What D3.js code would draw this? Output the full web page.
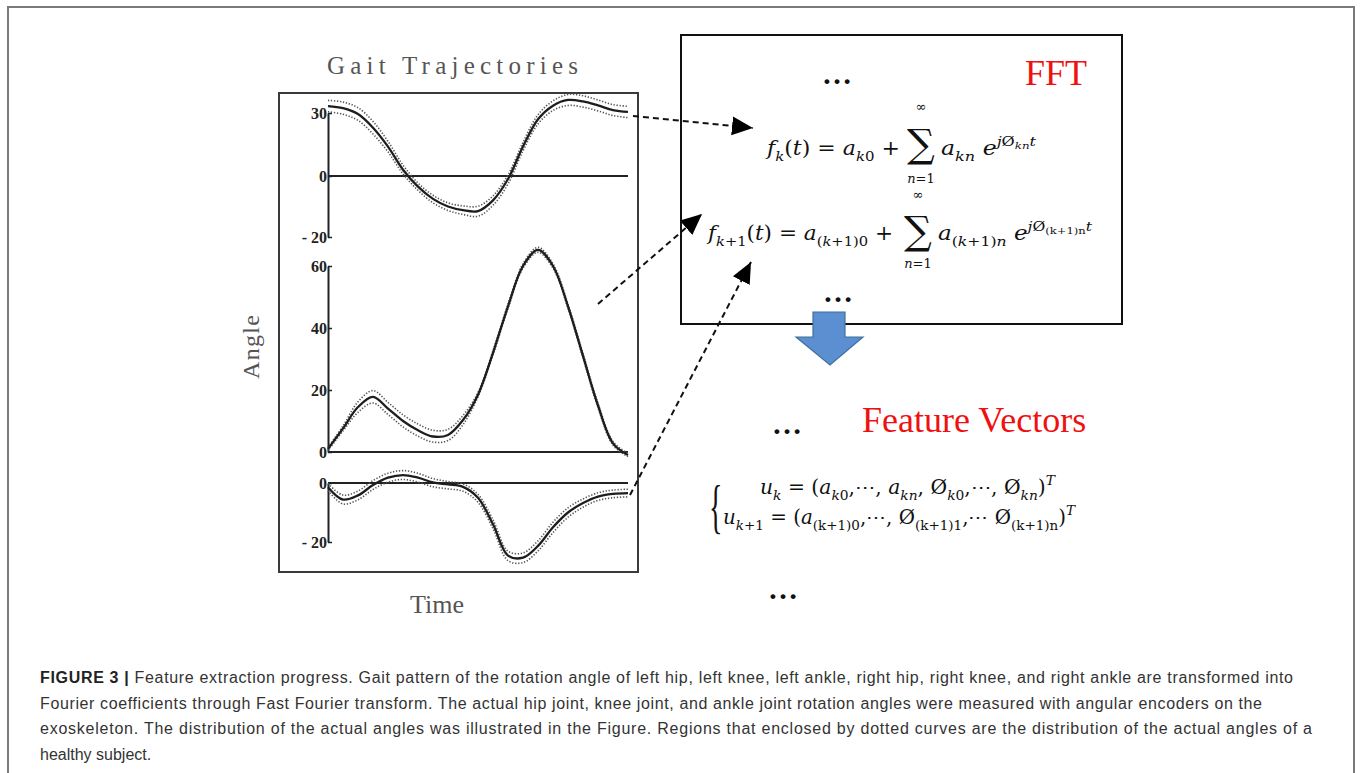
<!DOCTYPE html>
<html>
<head>
<meta charset="utf-8">
<script src="https://cdn.jsdelivr.net/npm/d3@7"></script>
<style>
  html, body { margin: 0; padding: 0; background: #fff; }
  svg { display: block; }
</style>
</head>
<body>
<div id="fig"></div>
<script>
// gait cycle grid, percent of the cycle
const timePct = [0,5,10,15,20,25,30,35,40,45,50,55,60,65,70,75,80,85,90,95,100];

// hip angle (deg), mean and dotted envelope
const hipMean  = [33.3,32.3,29.5,23,14,3,-3.5,-7.5,-10,-11.2,-11.5,-8,-1,14,27,33.5,36.2,35.5,33.6,31.4,30.5];
const hipUpper = [36,35.2,32.5,26,16.5,5.2,-2.3,-6.3,-8.8,-9.8,-9.9,-6.5,0.5,16,29.2,35.8,38.8,38.2,36.2,34,33.2];
const hipLower = [30.6,29.4,26.5,20,11.5,1,-4.7,-8.8,-11.3,-12.6,-13.2,-9.6,-2.6,12,24.8,31.2,33.6,32.8,31,28.8,27.8];

// knee angle
const kneeMean  = [1,7.6,14.5,17.8,14,10,7,5,5.5,10.3,18.5,32,47,60,65.2,60,47,31,15,2.8,-1];
const kneeUpper = [1.5,8.4,16.2,19.8,16,12,9,7,7.3,11.8,19.2,32.7,47.7,60.7,66,60.7,47.7,31.7,15.7,3.4,-0.5];
const kneeLower = [0.5,6.8,12.8,15.8,12.1,8.1,5.1,3.2,3.7,8.8,17.8,31.3,46.3,59.3,64.4,59.3,46.3,30.3,14.3,2.2,-1.5];

// ankle angle
const ankleMean  = [-1.4,-5.6,-4.2,-0.7,1.8,2.7,1.8,0.2,-0.5,-1.3,-5,-14,-24.6,-25.3,-21.3,-15,-10,-6.8,-4.6,-3.7,-3.4];
const ankleUpper = [-0.2,-4.1,-2.7,0.8,3.3,4.2,3.3,1.5,0.5,-0.3,-3.8,-12.5,-23.1,-23.7,-19.6,-13.3,-8.4,-5.4,-3.3,-2.4,-2.1];
const ankleLower = [-2.6,-7.1,-5.7,-2.2,0.3,1.2,0.3,-1.3,-2,-2.8,-6.5,-15.5,-26.3,-27,-23,-16.8,-11.6,-8.2,-5.9,-5,-4.7];

const hipTicks = [30, 0, -20];
const kneeTicks = [60, 40, 20, 0];
const ankleTicks = [0, -20];

const caption = [
  "Feature extraction progress. Gait pattern of the rotation angle of left hip, left knee, left ankle, right hip, right knee, and right ankle are transformed into",
  "Fourier coefficients through Fast Fourier transform. The actual hip joint, knee joint, and ankle joint rotation angles were measured with angular encoders on the",
  "exoskeleton. The distribution of the actual angles was illustrated in the Figure. Regions that enclosed by dotted curves are the distribution of the actual angles of a",
  "healthy subject."
];

var width = 1360, height = 773;

var svg = d3.select("#fig").append("svg")
    .attr("width", width)
    .attr("height", height);

// outer figure frame (bottom edge runs off the page)
svg.append("path")
   .attr("d", "M8,773V7H1354V773")
   .attr("fill", "none")
   .attr("stroke", "#7a7a7a")
   .attr("stroke-width", 2);

// ---------- left: gait trajectories ----------
var x = d3.scaleLinear().domain([0, 100]).range([328, 628]);

var panels = [
  {y: d3.scaleLinear().domain([-20, 0, 30]).range([237, 176, 113]), ticks: hipTicks,
   mean: hipMean, upper: hipUpper, lower: hipLower},
  {y: d3.scaleLinear().domain([0, 60]).range([452, 266]), ticks: kneeTicks,
   mean: kneeMean, upper: kneeUpper, lower: kneeLower},
  {y: d3.scaleLinear().domain([-20, 0]).range([542, 483]), ticks: ankleTicks,
   mean: ankleMean, upper: ankleUpper, lower: ankleLower}
];

var plot = svg.append("g").attr("class", "gait");

plot.append("rect")
    .attr("x", 279).attr("y", 93)
    .attr("width", 359).attr("height", 479)
    .attr("fill", "none")
    .attr("stroke", "#3a3a3a")
    .attr("stroke-width", 2);

plot.append("text")
    .attr("x", 327).attr("y", 74)
    .attr("textLength", 251)
    .attr("lengthAdjust", "spacing")
    .attr("font-family", "Liberation Serif")
    .attr("font-size", 25)
    .attr("fill", "#555")
    .text("Gait Trajectories");

plot.append("text")
    .attr("transform", "translate(259,347) rotate(-90)")
    .attr("text-anchor", "middle")
    .attr("textLength", 64)
    .attr("lengthAdjust", "spacing")
    .attr("font-family", "Liberation Serif")
    .attr("font-size", 24)
    .attr("fill", "#555")
    .text("Angle");

plot.append("text")
    .attr("x", 437).attr("y", 613)
    .attr("text-anchor", "middle")
    .attr("font-family", "Liberation Serif")
    .attr("font-size", 26)
    .attr("fill", "#555")
    .text("Time");

panels.forEach(function(p){
  var g = plot.append("g");

  var axis = d3.axisLeft(p.y)
      .tickValues(p.ticks)
      .tickSizeInner(-4)
      .tickSizeOuter(0)
      .tickPadding(1)
      .tickFormat(function(d){ return d < 0 ? "- " + Math.abs(d) : d; });

  var ax = g.append("g")
      .attr("transform", "translate(" + x(0) + ",0)")
      .call(axis);
  ax.select(".domain").attr("stroke", "#222").attr("stroke-width", 2);
  ax.selectAll(".tick line").attr("stroke", "#222").attr("stroke-width", 1.5);
  ax.selectAll(".tick text")
    .attr("font-family", "Liberation Serif")
    .attr("font-weight", "bold")
    .attr("font-size", 16)
    .attr("fill", "#222");

  // zero reference line
  g.append("line")
   .attr("x1", x(0)).attr("x2", x(100))
   .attr("y1", p.y(0)).attr("y2", p.y(0))
   .attr("stroke", "#222")
   .attr("stroke-width", 1.8);

  var line = d3.line()
      .x(function(d, i){ return x(timePct[i]); })
      .y(function(d){ return p.y(d); })
      .curve(d3.curveCatmullRom.alpha(0.5));

  [p.upper, p.lower].forEach(function(s){
    g.append("path")
     .attr("d", line(s))
     .attr("fill", "none")
     .attr("stroke", "#555")
     .attr("stroke-width", 1.6)
     .attr("stroke-dasharray", "1.3 1.7");
  });

  g.append("path")
   .attr("d", line(p.mean))
   .attr("fill", "none")
   .attr("stroke", "#1e1e1e")
   .attr("stroke-width", 2.3);
});

// ---------- right: FFT box ----------
var mathFont = "DejaVu Serif";
var lev = {0: 0, 1: 0.3, 2: -0.45, 3: -0.28};
var sz  = {0: 1, 1: 0.68, 2: 0.68, 3: 0.5};

function mathText(sel, xx, yy, size, parts, len){
  var t = sel.append("text")
      .attr("x", xx).attr("y", yy)
      .attr("font-family", mathFont)
      .attr("font-size", size)
      .attr("fill", "#111")
      .style("white-space", "pre");
  var cur = 0;
  parts.forEach(function(p){
    var l = p[2] || 0;
    var off = lev[l] * size;
    t.append("tspan")
     .attr("dy", off - cur)
     .attr("font-size", sz[l] * size)
     .attr("font-style", p[1] === "i" ? "italic" : "normal")
     .text(p[0]);
    cur = off;
  });
  if (len) t.attr("textLength", len).attr("lengthAdjust", "spacingAndGlyphs");
  return t;
}

// big summation sign with its limits
function sigma(sel, cx, yy, topY, botY){
  sel.append("text").attr("x", cx).attr("y", yy)
     .attr("text-anchor", "middle")
     .attr("font-family", mathFont).attr("font-size", 39)
     .attr("fill", "#111").text("\u2211");
  sel.append("text").attr("x", cx).attr("y", topY)
     .attr("text-anchor", "middle")
     .attr("font-family", mathFont).attr("font-size", 13)
     .attr("fill", "#111").text("\u221E");
  var n = sel.append("text").attr("x", cx).attr("y", botY)
     .attr("text-anchor", "middle")
     .attr("font-family", mathFont).attr("font-size", 13)
     .attr("fill", "#111");
  n.append("tspan").attr("font-style", "italic").text("n");
  n.append("tspan").text("=1");
}

function dots(sel, cx, yy){
  sel.append("text").attr("x", cx).attr("y", yy)
     .attr("text-anchor", "middle")
     .attr("font-family", "Liberation Serif")
     .attr("font-weight", "bold")
     .attr("font-size", 30)
     .attr("fill", "#111")
     .text("\u2026");
}

var right = svg.append("g").attr("class", "fft");

right.append("rect")
     .attr("x", 681).attr("y", 35)
     .attr("width", 441).attr("height", 289)
     .attr("fill", "none")
     .attr("stroke", "#111")
     .attr("stroke-width", 2);

right.append("text")
     .attr("x", 1025).attr("y", 85)
     .attr("font-family", "Liberation Serif")
     .attr("font-size", 36)
     .attr("fill", "#f01010")
     .text("FFT");

dots(right, 837, 84);
dots(right, 838, 302);

mathText(right, 767, 155, 20, [
  ["f","i"],["k","i",1],["(",""],["t","i"],[") = ",""],["a","i"],["k","i",1],["0","",1],[" +",""]
], 133);
sigma(right, 921, 157, 111, 183);
mathText(right, 941, 155, 20, [
  ["a","i"],["kn","i",1],[" ",""],["e","i"],["j","i",2],["\u00D8","",2],["kn","i",3],["t","i",2]
], 95);

mathText(right, 708, 240, 20, [
  ["f","i"],["k","i",1],["+1","",1],["(",""],["t","i"],[") = ",""],["a","i"],["(",""  ,1],["k","i",1],["+1)0","",1],[" +",""]
], 185);
sigma(right, 918, 244, 199, 268);
mathText(right, 938, 240, 20, [
  ["a","i"],["(","",1],["k","i",1],["+1)","",1],["n","i",1],[" ",""],["e","i"],["j","i",2],["\u00D8","",2],["(k+1)n","",3],["t","i",2]
], 154);

// down arrow
right.append("path")
     .attr("d", "M813,312H845V337H863L830,365L796,337H813Z")
     .attr("fill", "#5b8fd2")
     .attr("stroke", "#41719c")
     .attr("stroke-width", 1.2);

// feature vectors
dots(right, 787, 434);
right.append("text")
     .attr("x", 862).attr("y", 432)
     .attr("font-family", "Liberation Serif")
     .attr("font-size", 36)
     .attr("fill", "#f01010")
     .text("Feature Vectors");

// tall, narrow brace
right.append("text")
     .attr("transform", "translate(709,526) scale(0.5,1.05)")
     .attr("font-family", "Liberation Serif")
     .attr("font-size", 56)
     .attr("fill", "#111")
     .text("{");

mathText(right, 760, 494, 20, [
  ["u","i"],["k","i",1],[" = (",""],["a","i"],["k","i",1],["0","",1],[",\u22EF, ",""],["a","i"],["kn","i",1],[", ",""],
  ["\u00D8",""],["k","i",1],["0","",1],[",\u22EF, ",""],["\u00D8",""],["kn","i",1],[")",""],["T","i",2]
], 295);
mathText(right, 723, 524, 20, [
  ["u","i"],["k","i",1],["+1","",1],[" = (",""],["a","i"],["(k+1)0","",1],[",\u22EF, ",""],
  ["\u00D8",""],["(k+1)1","",1],[",\u22EF ",""],["\u00D8",""],["(k+1)n","",1],[")",""],["T","i",2]
], 352);

dots(right, 783, 599);

// dashed connectors
svg.append("defs").append("marker")
   .attr("id", "head")
   .attr("markerUnits", "userSpaceOnUse")
   .attr("viewBox", "0 0 20 20")
   .attr("refX", 20).attr("refY", 10)
   .attr("markerWidth", 21).attr("markerHeight", 21)
   .attr("orient", "auto")
   .append("path")
   .attr("d", "M0,1L20,10L0,19Z")
   .attr("fill", "#000");

var links = [
  [[633, 116], [753, 128]],
  [[598, 304], [702, 214]],
  [[630, 495], [751, 262]]
];
svg.append("g").selectAll("line")
   .data(links)
   .enter().append("line")
   .attr("x1", function(d){ return d[0][0]; })
   .attr("y1", function(d){ return d[0][1]; })
   .attr("x2", function(d){ return d[1][0]; })
   .attr("y2", function(d){ return d[1][1]; })
   .attr("stroke", "#111")
   .attr("stroke-width", 2)
   .attr("stroke-dasharray", "6 4")
   .attr("marker-end", "url(#head)");

// ---------- caption ----------
var cap = svg.append("g")
    .attr("font-family", "Liberation Sans")
    .attr("font-size", 16)
    .attr("fill", "#333");

var capEnds = [1293, 1262, 1312, null];
caption.forEach(function(s, i){
  var t = cap.append("text")
     .attr("x", 40)
     .attr("y", 683 + i * 25.5)
     .style("white-space", "pre");
  if (i === 0) {
    t.append("tspan").attr("font-weight", "bold").attr("fill", "#222").text("FIGURE 3 | ");
  }
  t.append("tspan").text(s);
  if (capEnds[i]) t.attr("textLength", capEnds[i] - 40).attr("lengthAdjust", "spacing");
});
</script>
</body>
</html>
